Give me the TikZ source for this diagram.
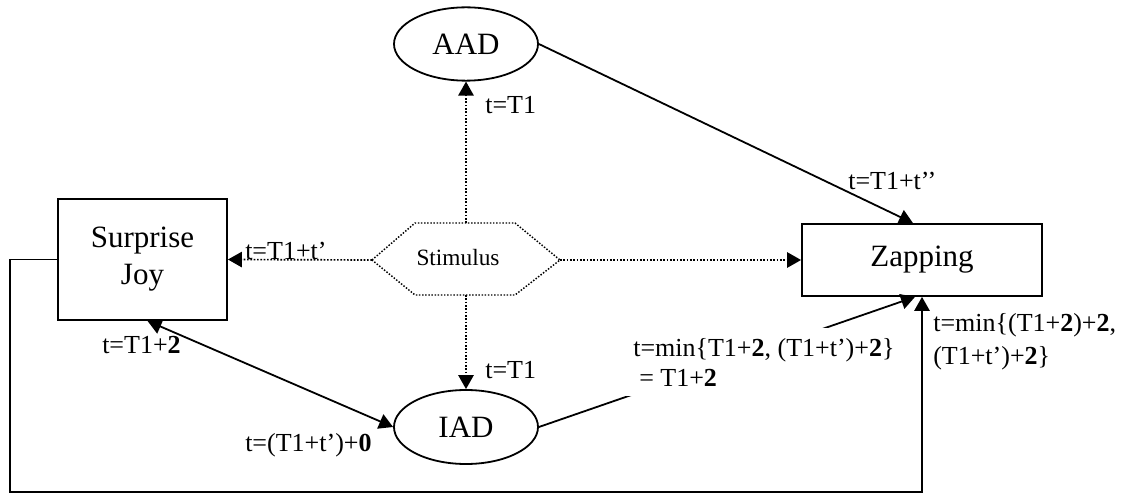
\documentclass[tikz,border=0pt]{standalone}
\usepackage{fontspec}
\setmainfont{Liberation Serif}
\usetikzlibrary{arrows.meta,shapes.geometric,calc}
\begin{document}
\begin{tikzpicture}[x=0.75pt,y=-0.75pt,
  >={Triangle[length=10.5pt,width=11.5pt]},
  main/.style={font=\fontsize{23.25}{27.75}\selectfont, line width=1.35pt, draw, inner sep=0pt, align=center},
  ell/.style={main, ellipse},
  boxn/.style={main, rectangle},
  conn/.style={line width=1.35pt, ->},
  dotconn/.style={line width=1.25pt, dash pattern=on 1.25pt off 1.25pt, ->},
  hexline/.style={line width=1.1pt, dash pattern=on 1.1pt off 1.25pt},
  lbl/.style={font=\fontsize{19.5}{22.5}\selectfont, inner sep=0pt, anchor=west}]
\useasboundingbox (0,0) rectangle (1127,495);

% nodes
\node[ell, minimum width=108pt, minimum height=55pt] (AAD) at (466,44) {AAD};
\node[ell, minimum width=108pt, minimum height=55.5pt] (IAD) at (466,427) {IAD};
\node[boxn, minimum width=126.75pt, minimum height=90.75pt] (SJ) at (142.5,259.5) {Surprise\\Joy};
\node[boxn, minimum width=180pt, minimum height=54pt] (Zap) at (922,260) {Zapping};

% stimulus hexagon
\coordinate (stL) at (372,260);
\coordinate (stR) at (560,260);
\coordinate (stT) at (466,223);
\coordinate (stB) at (466,295);
\draw[hexline] (stL) -- (415,223) -- (515,223) -- (stR) -- (515,295) -- (415,295) -- cycle;
\node[font=\fontsize{17.5}{20}\selectfont, inner sep=0pt] (stim) at (458,258) {Stimulus};

% dotted connectors
\draw[dotconn] (stT) -- (AAD.south);
\draw[dotconn] (stL) -- (SJ.east);
\draw[dotconn] (stB) -- (IAD.north);
\draw[dotconn] (stR) -- (Zap.west);

% solid connectors
\draw[conn] (AAD.east) -- ($(Zap.north)+(-9,0)$);
\draw[line width=1.35pt, <->] ($(SJ.south)+(5,0)$) -- (IAD.west);
\draw[conn] (IAD.east) -- ($(Zap.south)+(-7,0)$);
\coordinate (loopL) at (10,492);
\draw[conn] (SJ.west) -| (loopL) -| (Zap.south);

% labels
\node[lbl] (l1) at (485,105) {t=T1};
\node[lbl, anchor=base west] (l2) at (245,259) {t=T1+t’};
\node[lbl] (l3) at (848,181) {t=T1+t’’};
\node[lbl] (l4) at (485,370) {t=T1};
\node[lbl] (l5) at (102,345) {t=T1+\textbf{2}};
\node[lbl] (l6) at (245,445) {t=(T1+t’)+\textbf{0}};
\node[lbl, fill=white, anchor=north west, inner xsep=6.75pt, inner ysep=7.5pt, align=left] (l7) at (624,328)
  {t=min\{T1+\textbf{2}, (T1+t’)+\textbf{2}\}\\\hspace*{4.5pt}= T1+\textbf{2}};
\node[lbl, anchor=north west, align=left, font=\fontsize{19.5}{24.75}\selectfont] (l8) at (933,313)
  {t=min\{(T1+\textbf{2})+\textbf{2},\\(T1+t’)+\textbf{2}\}};
\end{tikzpicture}
\end{document}
